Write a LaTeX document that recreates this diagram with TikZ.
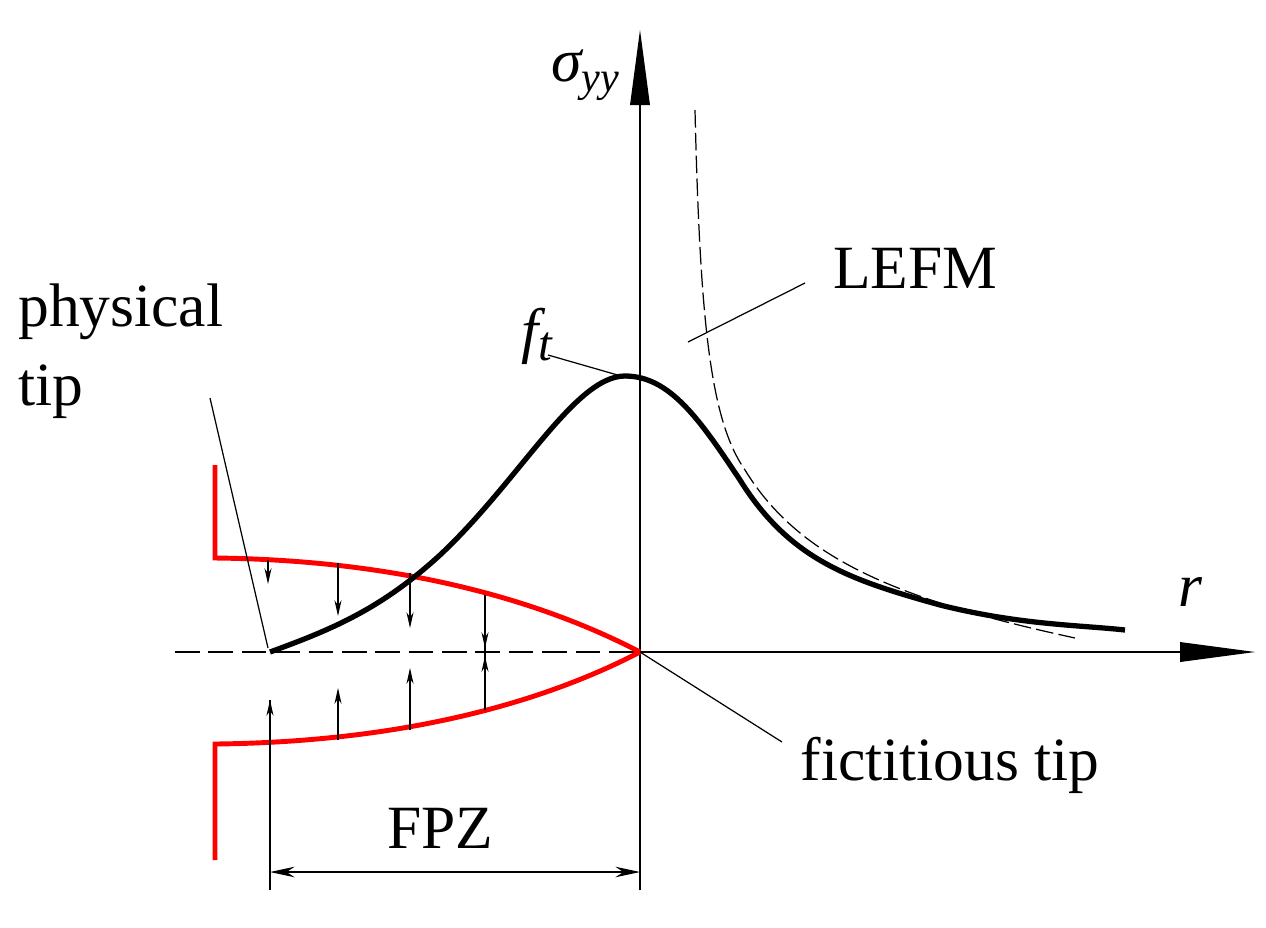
\documentclass[tikz,border=0pt]{standalone}
\usepackage{fontspec}
\setmainfont{Liberation Serif}
\usetikzlibrary{arrows.meta}
\begin{document}
\begin{tikzpicture}[x=0.02cm,y=-0.02cm,
  thin/.style={line width=0.7pt},
  sm/.style={thin,-{Stealth[length=9pt,width=4pt]}},
  lbl/.style={font=\fontsize{35}{35}\selectfont,inner sep=0pt}]
\useasboundingbox (0,0) rectangle (1266,927);
% axes
\coordinate (o) at (640,652);
\draw[thin] (640,890) -- (640,100);
\fill (630,105) -- (640,30) -- (650,105) -- cycle;
\draw[thin] (640,652) -- (1185,652);
\fill (1180,642) -- (1255,652) -- (1180,662) -- cycle;
\draw[thin,dash pattern=on 14pt off 5pt] (175,652) -- (640,652);
\node[lbl] (sig) at (585,75) {\itshape σ\raisebox{-0.35ex}{\fontsize{24}{24}\selectfont yy}};
\node[lbl] (r) at (1190,592) {\itshape r};
% red crack
\draw[red,line width=2.8pt] (215,465) -- (215,558) .. controls (400,560) and (540,600) .. (o);
\draw[red,line width=2.8pt] (215,860) -- (215,744) .. controls (400,742) and (540,704) .. (o);
% cohesive arrows
\foreach \x/\a/\b in {268/560/584, 338/563/616, 410/573/628}
  \draw[sm] (\x,\a) -- (\x,\b);
\foreach \x/\a/\b in {338/740/688, 410/730/668}
  \draw[sm] (\x,\a) -- (\x,\b);
\draw[thin] (485,595) -- (485,710);
\draw[sm] (485,620) -- (485,648);
\draw[sm] (485,684) -- (485,656);
% stress curve
\draw[line width=3pt] (270,652) .. controls (330,630) and (380,610) .. (440,555)
  .. controls (520,480) and (575,376) .. (625,376)
  .. controls (670,376) and (700,420) .. (740,480)
  .. controls (790,560) and (850,580) .. (940,605)
  .. controls (1020,625) and (1080,625) .. (1125,630);
% LEFM
\draw[thin,dash pattern=on 10pt off 3pt] (695,110) .. controls (700,320) and (710,420) .. (745,470)
  .. controls (800,560) and (900,600) .. (1075,638);
\node[lbl] (lefm) at (915,268) {LEFM};
\draw[thin] (805,283) -- (688,342);
\node[lbl] (ft) at (537,336) {\itshape f\raisebox{-0.35ex}{\fontsize{28}{28}\selectfont t}};
\draw[thin] (548,355) -- (628,378);
% physical tip
\node[lbl,align=left,anchor=north west] (pt) at (18,283) {physical\\[10pt]tip};
\coordinate (ptip) at (268,648);
\draw[thin] (210,398) -- (ptip);
% fictitious tip
\node[lbl] (ftip) at (950,765) {fictitious tip};
\draw[thin] (o) -- (782,742);
% FPZ
\draw[thin] (270,700) -- (270,890);
\draw[sm] (270,760) -- (270,700);
\draw[thin,{Stealth[length=14pt,width=6pt]}-{Stealth[length=14pt,width=6pt]}] (270,872) -- (640,872);
\node[lbl] (fpz) at (440,828) {FPZ};
\end{tikzpicture}
\end{document}
